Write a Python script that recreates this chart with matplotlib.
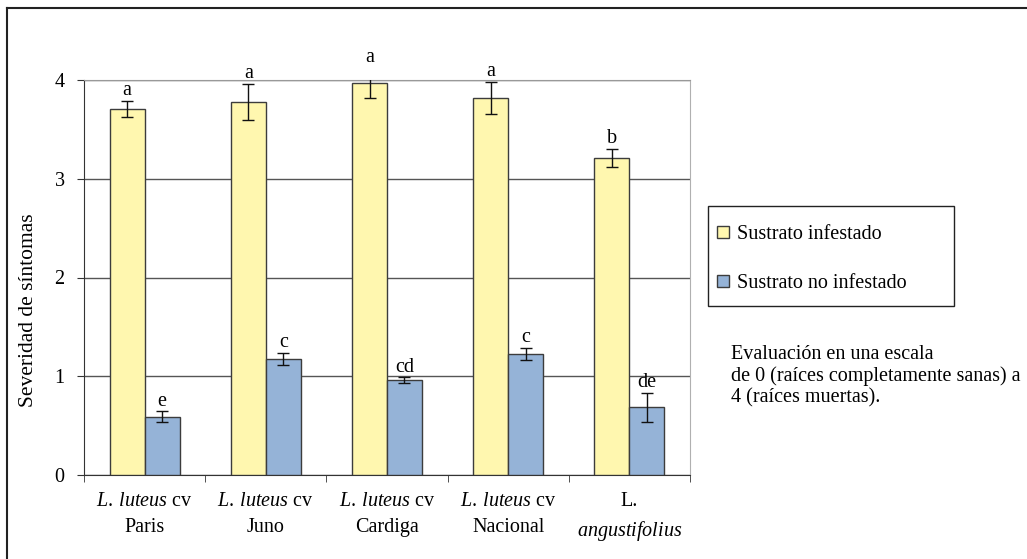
import matplotlib
matplotlib.use("Agg")
import matplotlib.pyplot as plt
from matplotlib.lines import Line2D
from matplotlib.patches import Rectangle
import numpy as np

plt.rcParams['font.family'] = ['Liberation Serif', 'DejaVu Serif']
plt.rcParams['mathtext.fontset'] = 'custom'
plt.rcParams['mathtext.rm'] = 'Liberation Serif'
plt.rcParams['mathtext.it'] = 'Liberation Serif:italic'

# cultivares y severidad media (0-4) con error estandar
cultivares = [r"$\mathit{L.\>luteus}$ cv" + "\nParis",
              r"$\mathit{L.\>luteus}$ cv" + "\nJuno",
              r"$\mathit{L.\>luteus}$ cv" + "\nCardiga",
              r"$\mathit{L.\>luteus}$ cv" + "\nNacional",
              "L.\n" + r"$\mathit{angustifolius}$"]
infestado = [3.71, 3.78, 3.97, 3.82, 3.21]
infestado_err = [0.08, 0.18, 0.15, 0.16, 0.09]
no_infestado = [0.59, 1.175, 0.96, 1.225, 0.685]
no_infestado_err = [0.055, 0.06, 0.03, 0.065, 0.15]
letras_inf = ['a', 'a', 'a', 'a', 'b']
letras_no = ['e', 'c', 'cd', 'c', 'de']
series = ['Sustrato infestado', 'Sustrato no infestado']

amarillo = '#FFF7AF'
azul = '#95B3D7'
borde = '#3c3c3c'
fs = 14.5

fig = plt.figure(figsize=(10.27, 5.59), dpi=100)
W, H = 1027, 559
ax = fig.add_axes([84 / W, (H - 475) / H, (690 - 84) / W, (475 - 80) / H])

x = np.arange(len(cultivares))
w = 0.288
ax.bar(x - w / 2, infestado, w, color=amarillo, edgecolor=borde, linewidth=1, zorder=3)
ax.bar(x + w / 2, no_infestado, w, color=azul, edgecolor=borde, linewidth=1, zorder=3)
ax.errorbar(x - w / 2, infestado, yerr=infestado_err, fmt='none', ecolor='#111111',
            elinewidth=1, capsize=4.3, capthick=1, zorder=4)
ax.errorbar(x + w / 2, no_infestado, yerr=no_infestado_err, fmt='none', ecolor='#111111',
            elinewidth=1, capsize=4.3, capthick=1, zorder=4)

for xi, v, e, t in zip(x - w / 2, infestado, infestado_err, letras_inf):
    ax.annotate(t, (xi, v + e), xytext=(0, 0.5), textcoords='offset points',
                ha='center', va='bottom', fontsize=fs, annotation_clip=False)
for xi, v, e, t in zip(x + w / 2, no_infestado, no_infestado_err, letras_no):
    ax.annotate(t, (xi, v + e), xytext=(0, 0.5), textcoords='offset points',
                ha='center', va='bottom', fontsize=fs, annotation_clip=False)

ax.set_xlim(-0.5, len(cultivares) - 0.5)
ax.set_ylim(0, 4)
ax.set_yticks([0, 1, 2, 3, 4])
ax.yaxis.grid(True, color='#555555', linewidth=1, zorder=0)
ax.set_axisbelow(True)
ax.tick_params(axis='y', labelsize=fs, length=5, color='#333333', pad=9)
ax.set_xticks(x)
ax.set_xticklabels(cultivares, fontsize=fs, linespacing=1.5)
ax.set_xticks(np.arange(len(cultivares) + 1) - 0.5, minor=True)
ax.tick_params(axis='x', which='major', length=0, pad=12)
ax.tick_params(axis='x', which='minor', length=5, color='#333333')

ax.spines['left'].set_color('#333333')
ax.spines['bottom'].set_color('#333333')
ax.spines['top'].set_color('#999999')
ax.spines['right'].set_color('#b0b0b0')

fig.text(29 / W, 1 - 310 / H, 'Severidad de síntomas', rotation=90, fontsize=15.5,
         ha='center', va='center')

# leyenda dibujada a mano en coordenadas de pixel de la figura
def px(xp, yp):
    return xp / W, 1 - yp / H

fig.add_artist(Rectangle(px(708, 306), 246 / W, 100 / H, transform=fig.transFigure,
                         facecolor='white', edgecolor='#222222', linewidth=1))
for yc, col, lab in zip([232, 281], [amarillo, azul], series):
    fig.add_artist(Rectangle(px(717, yc + 6), 12 / W, 12 / H, transform=fig.transFigure,
                             facecolor=col, edgecolor=borde, linewidth=1))
    fig.text(*px(737, yc), lab, fontsize=fs, ha='left', va='center_baseline')

fig.text(*px(731, 376),
         'Evaluación en una escala\nde 0 (raíces completamente sanas) a\n4 (raíces muertas).',
         fontsize=fs, ha='left', va='center', linespacing=1.15)

# marco exterior (solo izquierda y arriba)
fig.add_artist(Line2D([7 / W, 7 / W], [0, 1 - 8 / H], color='#222222', linewidth=1.5,
                      transform=fig.transFigure))
fig.add_artist(Line2D([7 / W, 1], [1 - 8 / H, 1 - 8 / H], color='#222222', linewidth=1.5,
                      transform=fig.transFigure))

fig.savefig('out.png', dpi=100)
